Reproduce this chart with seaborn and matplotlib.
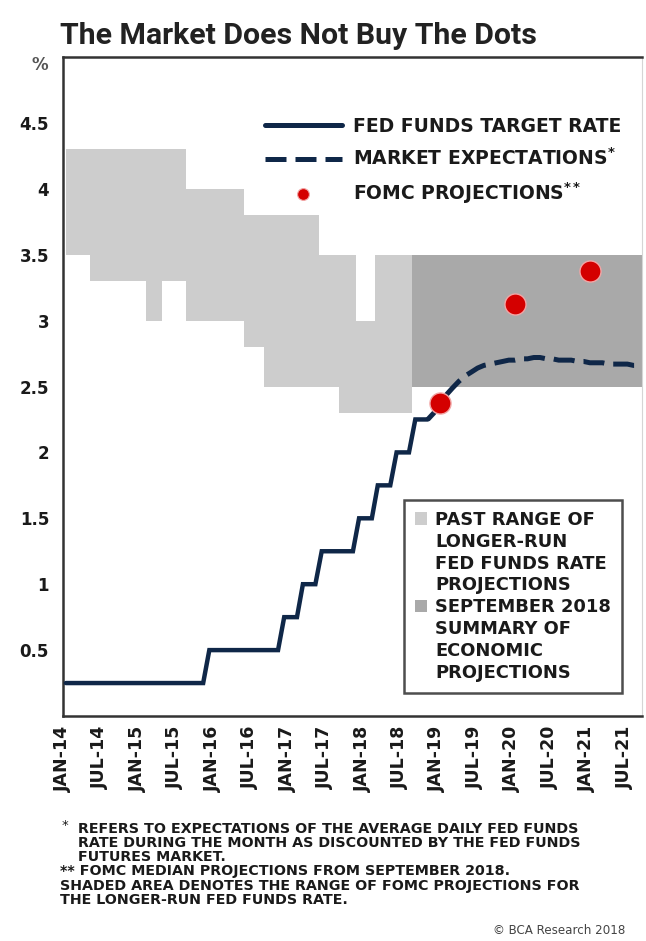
import numpy as np
import pandas as pd
import matplotlib
matplotlib.use("Agg")
import matplotlib.pyplot as plt
import seaborn as sns
from matplotlib.lines import Line2D
from matplotlib.patches import Patch

# ---------------- data ----------------
# Fed funds target rate (upper bound), monthly from Jan-2014 to Nov-2018
fed_start = "2014-01"
fed_rate = [0.25, 0.25, 0.25, 0.25, 0.25, 0.25, 0.25, 0.25, 0.25, 0.25, 0.25, 0.25,
            0.25, 0.25, 0.25, 0.25, 0.25, 0.25, 0.25, 0.25, 0.25, 0.25, 0.25,
            0.50, 0.50, 0.50, 0.50, 0.50, 0.50, 0.50, 0.50, 0.50, 0.50, 0.50, 0.50,
            0.75, 0.75, 0.75,
            1.00, 1.00, 1.00,
            1.25, 1.25, 1.25, 1.25, 1.25, 1.25,
            1.50, 1.50, 1.50,
            1.75, 1.75, 1.75,
            2.00, 2.00, 2.00,
            2.25, 2.25, 2.25]

# Market expectations (fed funds futures), monthly from Nov-2018 to Oct-2021
mkt_start = "2018-11"
mkt_rate = [2.25, 2.30, 2.37, 2.44, 2.49, 2.54, 2.58, 2.61, 2.64, 2.66, 2.67, 2.68,
            2.69, 2.70, 2.70, 2.71, 2.71, 2.72, 2.72, 2.71, 2.71, 2.70, 2.70, 2.70,
            2.69, 2.69, 2.68, 2.68, 2.68, 2.67, 2.67, 2.67, 2.67, 2.66, 2.66, 2.66]

# FOMC median projections (September 2018)
fomc_dates = ["2019-01-15", "2020-01-15", "2021-01-15"]
fomc_proj = [2.375, 3.125, 3.375]

# Past range of longer-run fed funds rate projections (step series)
past_dates = ["2014-01-18", "2014-05-10", "2015-02-10", "2015-04-28", "2015-08-25",
              "2016-06-01", "2016-09-07", "2017-06-01", "2017-09-07", "2017-12-01",
              "2018-03-01", "2018-09-01"]
past_high = [4.3, 4.3, 4.3, 4.3, 4.0, 3.8, 3.8, 3.5, 3.5, 3.0, 3.5, 3.5]
past_low = [3.5, 3.3, 3.0, 3.3, 3.0, 2.8, 2.5, 2.5, 2.3, 2.3, 2.3, 2.3]

# September 2018 SEP longer-run range
sep_dates = ["2018-09-01", "2021-12-31"]
sep_low = [2.5, 2.5]
sep_high = [3.5, 3.5]

# Axis ticks
xtick_dates = ["2014-01-01", "2014-07-01", "2015-01-01", "2015-07-01", "2016-01-01",
               "2016-07-01", "2017-01-01", "2017-07-01", "2018-01-01", "2018-07-01",
               "2019-01-01", "2019-07-01", "2020-01-01", "2020-07-01", "2021-01-01",
               "2021-07-01"]
xtick_labels = ["JAN-14", "JUL-14", "JAN-15", "JUL-15", "JAN-16", "JUL-16", "JAN-17",
                "JUL-17", "JAN-18", "JUL-18", "JAN-19", "JUL-19", "JAN-20", "JUL-20",
                "JAN-21", "JUL-21"]
ytick_values = [0.5, 1, 1.5, 2, 2.5, 3, 3.5, 4, 4.5]
ytick_labels = ["0.5", "1", "1.5", "2", "2.5", "3", "3.5", "4", "4.5"]

title = "The Market Does Not Buy The Dots"
legend_labels = ["FED FUNDS TARGET RATE", r"MARKET EXPECTATIONS$^{*}$", r"FOMC PROJECTIONS$^{**}$"]
range_labels = ["PAST RANGE OF", "LONGER-RUN", "FED FUNDS RATE", "PROJECTIONS",
                "SEPTEMBER 2018", "SUMMARY OF", "ECONOMIC", "PROJECTIONS"]
footnotes = [
    "REFERS TO EXPECTATIONS OF THE AVERAGE DAILY FED FUNDS",
    "RATE DURING THE MONTH AS DISCOUNTED BY THE FED FUNDS",
    "FUTURES MARKET.",
    "** FOMC MEDIAN PROJECTIONS FROM SEPTEMBER 2018.",
    "SHADED AREA DENOTES THE RANGE OF FOMC PROJECTIONS FOR",
    "THE LONGER-RUN FED FUNDS RATE.",
]
credit = "\u00a9 BCA Research 2018"


# ---------------- helpers ----------------
def month_pos(dates):
    t = pd.to_datetime(pd.Series(dates))
    return ((t.dt.year - 2014) * 12 + (t.dt.month - 1)
            + (t.dt.day - 1) / t.dt.days_in_month).to_numpy(dtype=float)


def monthly(start, n):
    d = pd.date_range(start + "-01", periods=n, freq="MS") + pd.Timedelta(days=14)
    return month_pos(d)


fed_df = pd.DataFrame({"x": monthly(fed_start, len(fed_rate)), "rate": fed_rate})
mkt_df = pd.DataFrame({"x": monthly(mkt_start, len(mkt_rate)), "rate": mkt_rate})
fomc_df = pd.DataFrame({"x": month_pos(fomc_dates), "rate": fomc_proj})

# ---------------- style ----------------
sns.set_style("white")
plt.rcParams["font.family"] = ["DejaVu Sans"]
plt.rcParams["mathtext.default"] = "bf"

NAVY = "#0f2748"
RED = "#d40000"
LIGHT = "#cdcdcd"
DARK = "#a9a9a9"
INK = "#1a1a1a"

W, H = 646, 941
fig = plt.figure(figsize=(W / 100, H / 100), dpi=100)
ax = fig.add_axes([63 / W, 1 - 716 / H, 579 / W, 659 / H])

# shaded ranges
ax.fill_between(month_pos(past_dates), past_low, past_high, step="post",
                color=LIGHT, lw=0, zorder=1)
ax.fill_between(month_pos(sep_dates), sep_low, sep_high, step="post",
                color=DARK, lw=0, zorder=2)

# lines and dots
sns.lineplot(data=fed_df, x="x", y="rate", ax=ax, color=NAVY, lw=3.2, zorder=4,
             solid_joinstyle="miter")
sns.lineplot(data=mkt_df, x="x", y="rate", ax=ax, color=NAVY, lw=3.6, zorder=4,
             linestyle=(0, (4.2, 1.8)))
sns.scatterplot(data=fomc_df, x="x", y="rate", ax=ax, s=230, color=RED,
                edgecolor="#f2a5a5", linewidth=1.0, zorder=6)

# axes
ax.set_xlim(0, 92.8)
ax.set_ylim(0, 5)
ax.set_xlabel("")
ax.set_ylabel("")
ax.set_xticks(month_pos(xtick_dates))
ax.set_xticklabels(xtick_labels, rotation=90, fontweight="bold", fontsize=12.5, color=INK)
ax.set_yticks(ytick_values)
ax.set_yticklabels(ytick_labels, fontweight="bold", fontsize=12, color=INK)
ax.tick_params(axis="both", direction="in", length=5, width=1.6, color="#333333")
ax.tick_params(axis="x", pad=7)
ax.tick_params(axis="y", pad=10)
for side in ["top", "left", "bottom"]:
    ax.spines[side].set_color("#333333")
    ax.spines[side].set_linewidth(1.8)
ax.spines["right"].set_color("#d5d5d5")
ax.spines["right"].set_linewidth(0.8)

# top legend
handles = [
    Line2D([], [], color=NAVY, lw=3.6),
    Line2D([], [], color=NAVY, lw=3.6, linestyle=(0, (4.2, 1.8))),
    Line2D([], [], color=RED, marker="o", ls="none", markersize=8.5,
           markeredgecolor="#f2a5a5", markeredgewidth=0.8),
]
leg1 = ax.legend(handles, legend_labels, loc="upper left",
                 bbox_to_anchor=((265 - 63) / 579, (716 - 117) / 659),
                 frameon=False, borderpad=0, borderaxespad=0,
                 handlelength=4.1, handletextpad=0.6, labelspacing=0.62,
                 prop={"weight": "bold", "size": 13.5})
for t in leg1.get_texts():
    t.set_color(INK)
ax.add_artist(leg1)

# lower-right box legend
blank = Patch(facecolor="none", edgecolor="none")
rh = [Patch(facecolor=LIGHT, edgecolor="none"), blank, blank, blank,
      Patch(facecolor=DARK, edgecolor="none"), blank, blank, blank]
leg2 = ax.legend(rh, range_labels, loc="lower right",
                 bbox_to_anchor=((622 - 63) / 579, (716 - 693) / 659),
                 frameon=True, fancybox=False, borderpad=0.6, borderaxespad=0,
                 handlelength=0.7, handleheight=0.7, handletextpad=0.45,
                 labelspacing=0.22, prop={"weight": "bold", "size": 12.9})
leg2.get_frame().set_edgecolor("#222222")
leg2.get_frame().set_linewidth(1.8)
for t in leg2.get_texts():
    t.set_color(INK)

# title and annotations
fig.text(60 / W, 1 - 44 / H, title, fontsize=21.8, fontweight="semibold",
         family=["Roboto", "DejaVu Sans"], color="#222222", va="baseline", ha="left")
fig.text(40 / W, 1 - 65 / H, "%", fontsize=12, fontweight="bold", color="#555555",
         ha="center", va="center")

foot_x = [78, 78, 78, 60, 60, 60]
foot_y = [829, 843, 857, 871, 886, 900]
fig.text(62 / W, 1 - 826 / H, "*", fontsize=9.5, color=INK, ha="left", va="center")
for txt, fx, fy in zip(footnotes, foot_x, foot_y):
    fig.text(fx / W, 1 - fy / H, txt, fontsize=10.3, fontweight="bold", color=INK,
             ha="left", va="center")
fig.text(625 / W, 1 - 930 / H, credit, fontsize=8.6, color="#444444",
         ha="right", va="center")

fig.savefig("out.png", dpi=100)
